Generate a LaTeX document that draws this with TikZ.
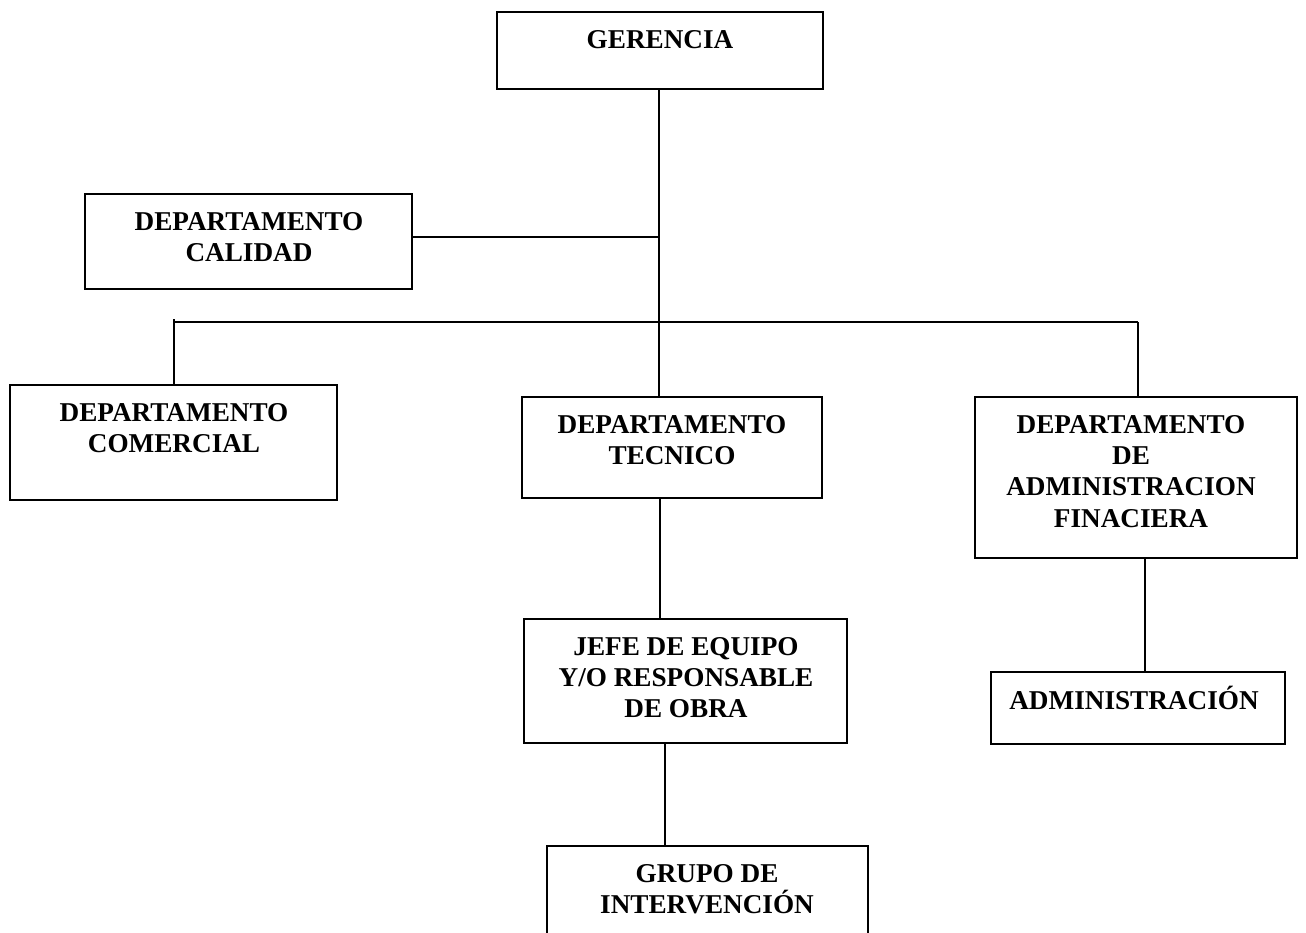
\documentclass[tikz,border=0pt]{standalone}
\usepackage{fontspec}
\setmainfont{Liberation Serif}
\begin{document}
\begin{tikzpicture}[x=1pt,y=-1pt,
  box/.style={draw, line width=1.9pt, inner sep=0pt},
  txt/.style={anchor=north, inner sep=0pt, align=center, font=\fontsize{27.2}{31.3}\selectfont\bfseries},
  conn/.style={line width=1.6pt}]
\useasboundingbox (0,0) rectangle (1306,932);
\clip (0,0) rectangle (1306,932);
% boxes
\node[box, minimum width=326pt, minimum height=77pt]  (ger) at (660,50.5) {};
\node[box, minimum width=327pt, minimum height=95pt]  (cal) at (248.5,241.5) {};
\node[box, minimum width=327pt, minimum height=115pt] (com) at (173.5,442.5) {};
\node[box, minimum width=300pt, minimum height=101pt] (tec) at (672,447.5) {};
\node[box, minimum width=322pt, minimum height=161pt] (adm) at (1136,477.5) {};
\node[box, minimum width=323pt, minimum height=124pt] (jef) at (685.5,681) {};
\node[box, minimum width=294pt, minimum height=72pt]  (adn) at (1138,708) {};
\node[box, minimum width=321pt, minimum height=108pt] (gru) at (707.5,900) {};
% texts
\node[txt] (tger) at (660,23) {\rule{0pt}{25pt}GERENCIA};
\node[txt] (tcal) at (249,205) {\rule{0pt}{25pt}DEPARTAMENTO\\CALIDAD};
\node[txt] (tcom) at (174,396) {\rule{0pt}{25pt}DEPARTAMENTO\\COMERCIAL};
\node[txt] (ttec) at (672,408) {\rule{0pt}{25pt}DEPARTAMENTO\\TECNICO};
\node[txt] (tadm) at (1131,408) {\rule{0pt}{25pt}DEPARTAMENTO\\DE\\ADMINISTRACION\\FINACIERA};
\node[txt] (tjef) at (686,630) {\rule{0pt}{25pt}JEFE DE EQUIPO\\Y/O RESPONSABLE\\DE OBRA};
\node[txt] (tadn) at (1134,684) {\rule{0pt}{25pt}ADMINISTRACIÓN};
\node[txt] (tgru) at (707,857) {\rule{0pt}{25pt}GRUPO DE\\INTERVENCIÓN};
% helper coordinates
\coordinate (trunk) at (659,0);
\coordinate (calY) at (0,237);
\coordinate (barL) at (174,322);
\coordinate (barR) at (1138,322);
\coordinate (tick) at (0,319);
\coordinate (tj) at (660,0);
\coordinate (jg) at (665,0);
\coordinate (aa) at (1145,0);
% connectors
\draw[conn] (trunk |- ger.south) -- (trunk |- tec.north);
\draw[conn] (cal.east |- calY) -- (trunk |- calY);
\draw[conn] (barL) -- (barR);
\draw[conn] (barL |- com.north) -- (barL |- tick);
\draw[conn] (barR) -- (barR |- adm.north);
\draw[conn] (tj |- tec.south) -- (tj |- jef.north);
\draw[conn] (jg |- jef.south) -- (jg |- gru.north);
\draw[conn] (aa |- adm.south) -- (aa |- adn.north);
\end{tikzpicture}
\end{document}
